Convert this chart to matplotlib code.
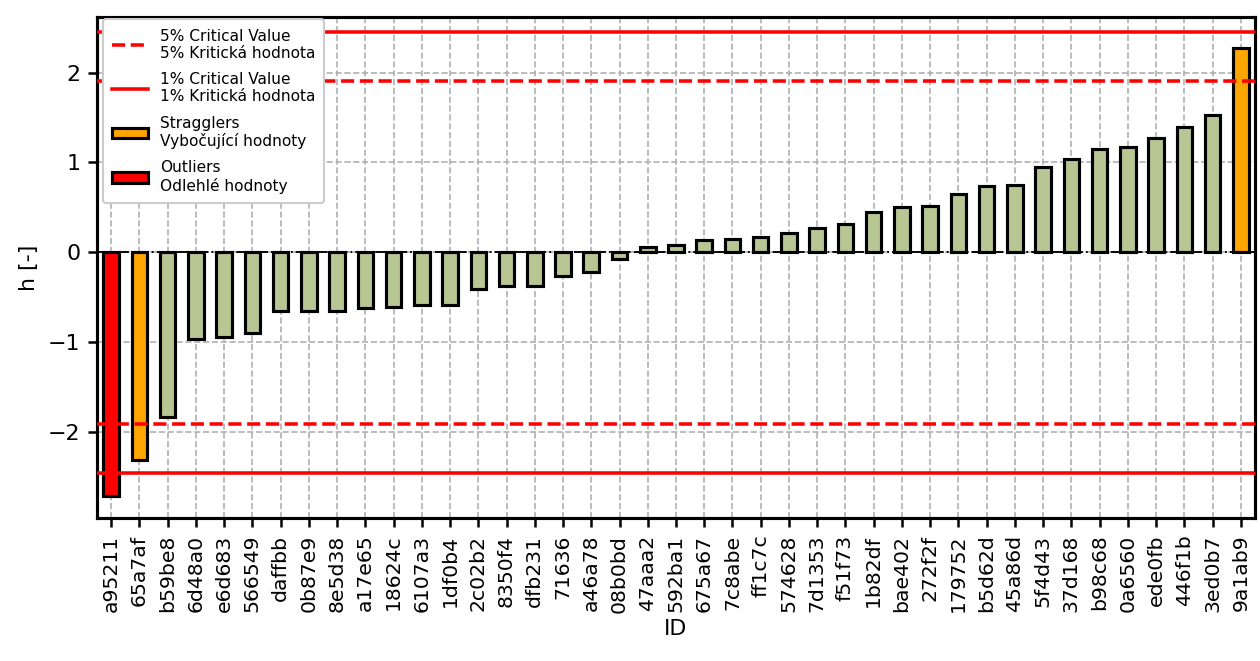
import matplotlib
matplotlib.use("Agg")
import matplotlib.pyplot as plt
from matplotlib.patches import Patch
import numpy as np

# Data
ids = ["a95211", "65a7af", "b59be8", "6d48a0", "e6d683", "566549", "daffbb", "0b87e9",
       "8e5d38", "a17e65", "18624c", "6107a3", "1df0b4", "2c02b2", "8350f4", "dfb231",
       "71636", "a46a78", "08b0bd", "47aaa2", "592ba1", "675a67", "7c8abe", "ff1c7c",
       "574628", "7d1353", "f51f73", "1b82df", "bae402", "272f2f", "179752", "b5d62d",
       "45a86d", "5f4d43", "37d168", "b98c68", "0a6560", "ede0fb", "446f1b", "3ed0b7",
       "9a1ab9"]
h = [-2.71, -2.31, -1.83, -0.97, -0.94, -0.90, -0.655, -0.655,
     -0.655, -0.62, -0.61, -0.59, -0.59, -0.41, -0.375, -0.375,
     -0.265, -0.215, -0.07, 0.06, 0.08, 0.135, 0.145, 0.165,
     0.215, 0.27, 0.31, 0.445, 0.505, 0.52, 0.645, 0.735,
     0.75, 0.95, 1.04, 1.145, 1.175, 1.275, 1.39, 1.53,
     2.28]
crit_5 = 1.91
crit_1 = 2.455

# colors by category
colors = []
for v in h:
    if abs(v) > crit_1:
        colors.append('red')
    elif abs(v) > crit_5:
        colors.append('orange')
    else:
        colors.append('#b7c692')

fig = plt.figure(figsize=(8.4, 4.4067), dpi=150)
ax = fig.add_axes([0.077, 0.2163, 0.919, 0.758])

x = np.arange(len(ids))
ax.set_axisbelow(True)
ax.grid(True, ls='--', color='#b0b0b0', lw=0.8)
ax.axhline(0, color='k', ls='-.', lw=0.9, zorder=1)

ax.bar(x, h, width=0.55, color=colors, edgecolor='black', linewidth=1.5, zorder=2)

l5 = ax.axhline(crit_5, color='red', ls='--', lw=1.7, zorder=3)
ax.axhline(-crit_5, color='red', ls='--', lw=1.7, zorder=3)
l1 = ax.axhline(crit_1, color='red', ls='-', lw=1.7, zorder=3)
ax.axhline(-crit_1, color='red', ls='-', lw=1.7, zorder=3)

p_str = Patch(facecolor='orange', edgecolor='black', linewidth=1.5)
p_out = Patch(facecolor='red', edgecolor='black', linewidth=1.5)
ax.legend([l5, l1, p_str, p_out],
          ["5% Critical Value\n5% Kritická hodnota",
           "1% Critical Value\n1% Kritická hodnota",
           "Stragglers\nVybočující hodnoty",
           "Outliers\nOdlehlé hodnoty"],
          loc='upper left', fontsize=7.4, framealpha=1, labelspacing=0.72,
          handlelength=2.3, borderpad=0.6, borderaxespad=0.15,
          bbox_to_anchor=(0.003, 1.0))

ax.set_xticks(x)
ax.set_xticklabels(ids, rotation=90, fontsize=9.8)
ax.tick_params(axis='y', labelsize=10.6)
ax.tick_params(width=1.2, length=4.5)
ax.set_xlim(-0.5, 40.5)
ax.set_ylim(-2.96, 2.62)
ax.set_yticks([-2, -1, 0, 1, 2])
ax.set_xlabel("ID", fontsize=10.6, labelpad=3)
ax.set_ylabel("h [-]", fontsize=10.6)
for s in ax.spines.values():
    s.set_linewidth(1.5)

fig.savefig("out.png", dpi=150)
